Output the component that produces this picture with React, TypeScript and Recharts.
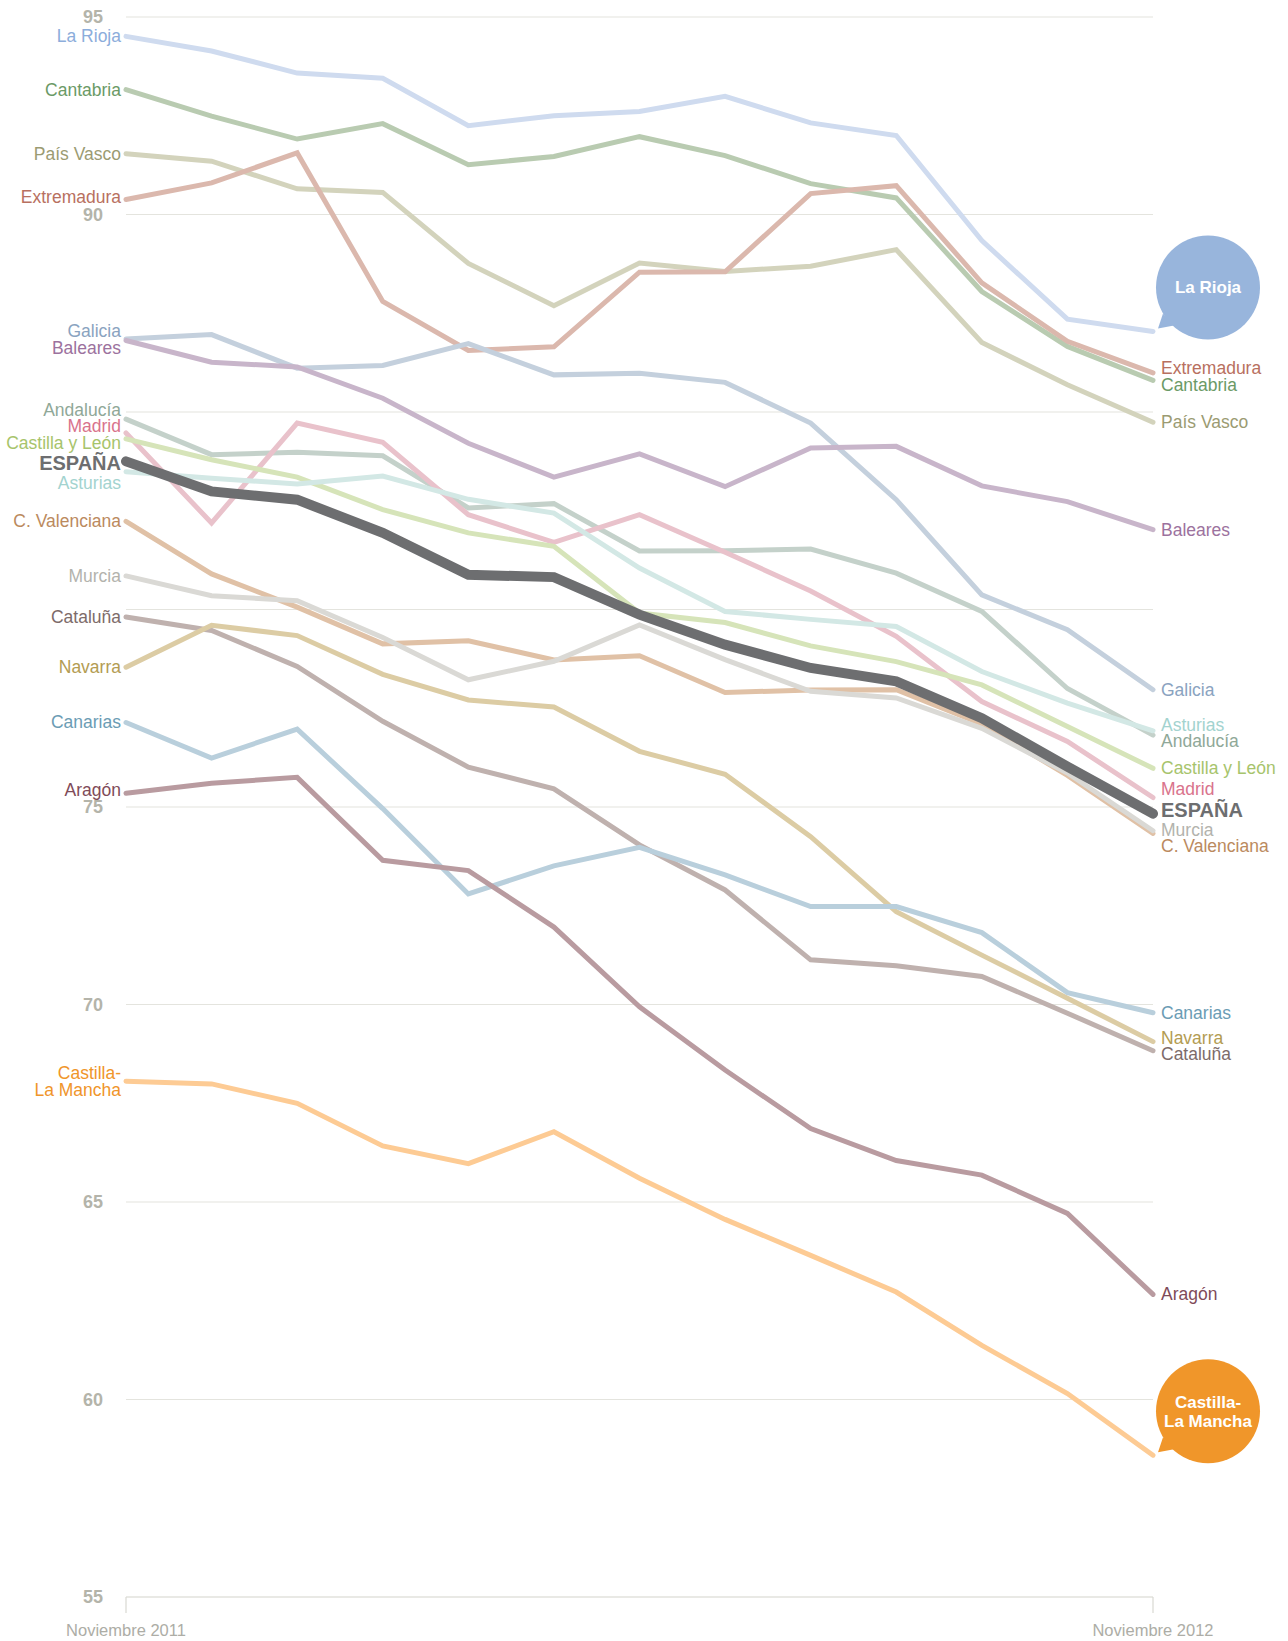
import { LineChart, Line, XAxis, YAxis, CartesianGrid } from 'recharts';

const MONTHS = [
  'Noviembre 2011', 'Diciembre 2011', 'Enero 2012', 'Febrero 2012', 'Marzo 2012', 'Abril 2012',
  'Mayo 2012', 'Junio 2012', 'Julio 2012', 'Agosto 2012', 'Septiembre 2012', 'Octubre 2012', 'Noviembre 2012',
];
const Y_TICKS = [55, 60, 65, 70, 75, 80, 85, 90, 95];
// these two tick labels sit under the region names in the original
const HIDDEN_TICK_LABELS = [80, 85];

const laRioja = [94.51, 94.14, 93.58, 93.45, 92.25, 92.5, 92.61, 92.99, 92.32, 92.0, 89.34, 87.35, 87.04];
const cantabria = [93.16, 92.49, 91.91, 92.3, 91.26, 91.47, 91.97, 91.49, 90.78, 90.42, 88.05, 86.66, 85.8];
const paisVasco = [91.54, 91.35, 90.65, 90.56, 88.76, 87.69, 88.77, 88.56, 88.69, 89.11, 86.76, 85.69, 84.74];
const extremadura = [90.38, 90.8, 91.56, 87.8, 86.56, 86.65, 88.54, 88.55, 90.53, 90.73, 88.27, 86.79, 85.99];
const galicia = [86.85, 86.96, 86.11, 86.18, 86.73, 85.94, 85.98, 85.75, 84.72, 82.78, 80.37, 79.49, 77.97];
const baleares = [86.81, 86.26, 86.14, 85.35, 84.21, 83.35, 83.94, 83.11, 84.09, 84.13, 83.13, 82.73, 82.02];
const andalucia = [84.82, 83.92, 83.98, 83.89, 82.57, 82.68, 81.48, 81.49, 81.53, 80.92, 79.95, 78.0, 76.82];
const madrid = [84.47, 82.19, 84.72, 84.23, 82.4, 81.7, 82.4, 81.45, 80.47, 79.32, 77.67, 76.66, 75.24];
const castillaLeon = [84.32, 83.79, 83.35, 82.53, 81.94, 81.6, 79.91, 79.67, 79.08, 78.68, 78.09, 77.04, 75.98];
const espana = [83.75, 82.99, 82.78, 81.94, 80.88, 80.82, 79.87, 79.11, 78.52, 78.18, 77.25, 76.02, 74.83];
const asturias = [83.49, 83.32, 83.18, 83.38, 82.79, 82.44, 81.05, 79.95, 79.75, 79.57, 78.43, 77.63, 76.93];
const cValenciana = [82.23, 80.9, 80.06, 79.13, 79.21, 78.72, 78.83, 77.9, 77.96, 77.97, 77.1, 75.8, 74.33];
const murcia = [80.85, 80.35, 80.22, 79.29, 78.22, 78.69, 79.61, 78.73, 77.93, 77.76, 76.99, 75.86, 74.4];
const cataluna = [79.81, 79.47, 78.56, 77.17, 76.01, 75.46, 74.04, 72.9, 71.13, 70.98, 70.71, 69.78, 68.83];
const navarra = [78.54, 79.6, 79.34, 78.36, 77.71, 77.53, 76.41, 75.83, 74.25, 72.35, 71.25, 70.16, 69.06];
const canarias = [77.14, 76.24, 76.97, 74.96, 72.8, 73.51, 73.98, 73.28, 72.48, 72.48, 71.82, 70.3, 69.79];
const aragon = [75.35, 75.6, 75.75, 73.65, 73.39, 71.96, 69.94, 68.34, 66.86, 66.05, 65.68, 64.71, 62.66];
const castillaLaMancha = [68.06, 67.99, 67.5, 66.42, 65.97, 66.78, 65.6, 64.56, 63.65, 62.72, 61.37, 60.15, 58.59];

type Series = {
  key: string;
  name: string;
  values: number[];
  line: string;
  text: string;
  bubble?: string;
  main?: boolean;
};

const SERIES: Series[] = [
  { key: 'laRioja', name: 'La Rioja', values: laRioja, line: '#cfdbef', text: '#8caddb', bubble: '#98b5dc' },
  { key: 'cantabria', name: 'Cantabria', values: cantabria, line: '#b9cbb1', text: '#6b9a66' },
  { key: 'paisVasco', name: 'País Vasco', values: paisVasco, line: '#d3d3bc', text: '#9b9b72' },
  { key: 'extremadura', name: 'Extremadura', values: extremadura, line: '#dbb8ad', text: '#b87060' },
  { key: 'galicia', name: 'Galicia', values: galicia, line: '#c4d0dd', text: '#8aa3c0' },
  { key: 'baleares', name: 'Baleares', values: baleares, line: '#c8b5ca', text: '#9c729e' },
  { key: 'andalucia', name: 'Andalucía', values: andalucia, line: '#c4d1ca', text: '#8fa898' },
  { key: 'madrid', name: 'Madrid', values: madrid, line: '#e9c2cb', text: '#d9738c' },
  { key: 'castillaLeon', name: 'Castilla y León', values: castillaLeon, line: '#d6e4b9', text: '#a7c46c' },
  { key: 'asturias', name: 'Asturias', values: asturias, line: '#d3e8e5', text: '#a3d3cf' },
  { key: 'cValenciana', name: 'C. Valenciana', values: cValenciana, line: '#e0c1a6', text: '#bb8a5e' },
  { key: 'murcia', name: 'Murcia', values: murcia, line: '#dad9d5', text: '#b3b3ad' },
  { key: 'cataluna', name: 'Cataluña', values: cataluna, line: '#bfb1ae', text: '#7d6b69' },
  { key: 'navarra', name: 'Navarra', values: navarra, line: '#dccca4', text: '#b39c52' },
  { key: 'canarias', name: 'Canarias', values: canarias, line: '#b9cfdc', text: '#6b9cb4' },
  { key: 'aragon', name: 'Aragón', values: aragon, line: '#b99ba0', text: '#7f4b59' },
  { key: 'castillaLaMancha', name: 'Castilla-\nLa Mancha', values: castillaLaMancha, line: '#fdcb94', text: '#f0952a', bubble: '#f0962a' },
  { key: 'espana', name: 'ESPAÑA', values: espana, line: '#6d6e70', text: '#6d6e70', main: true },
];

const W = 1288;
const H = 1641;
const MARGIN = { top: 17, right: 135, bottom: 0, left: 0 };
const X_AXIS_H = 44;
const Y_MIN = 55;
const Y_MAX = 95;
const PX_PER_UNIT = (H - MARGIN.top - MARGIN.bottom - X_AXIS_H) / (Y_MAX - Y_MIN);
const FONT = "'Liberation Sans', Arial, sans-serif";
const LAST = MONTHS.length - 1;

const data = MONTHS.map((month, i) => {
  const row: Record<string, string | number> = { month };
  SERIES.forEach((s) => {
    row[s.key] = s.values[i];
  });
  return row;
});

type LabelItem = { key: string; value: number; size: number; fixed?: boolean };

// push overlapping end labels apart, returns pixel shift per series
function spreadLabels(items: LabelItem[]) {
  const placed = items
    .map((it) => {
      const y = (Y_MAX - it.value) * PX_PER_UNIT;
      return { ...it, y, y0: y };
    })
    .sort((a, b) => a.y - b.y);
  for (let iter = 0; iter < 500; iter++) {
    let moved = false;
    for (let i = 1; i < placed.length; i++) {
      const a = placed[i - 1];
      const b = placed[i];
      const need = (a.size + b.size) / 2;
      const gap = b.y - a.y;
      if (gap < need - 0.01) {
        const d = need - gap;
        if (a.fixed && b.fixed) continue;
        if (a.fixed) b.y += d;
        else if (b.fixed) a.y -= d;
        else {
          a.y -= d / 2;
          b.y += d / 2;
        }
        moved = true;
      }
    }
    if (!moved) break;
  }
  const out: Record<string, number> = {};
  placed.forEach((p) => {
    out[p.key] = p.y - p.y0;
  });
  return out;
}

const labelSize = (s: Series) => (s.main ? 24 : 16.5 * s.name.split('\n').length);

const tickObstacles: LabelItem[] = Y_TICKS.filter((t) => !HIDDEN_TICK_LABELS.includes(t)).map((t) => ({
  key: `tick-${t}`,
  value: t,
  size: 18,
  fixed: true,
}));

const leftShift = spreadLabels([
  ...SERIES.map((s) => ({ key: s.key, value: s.values[0], size: labelSize(s) })),
  ...tickObstacles,
]);
const rightShift = spreadLabels(
  SERIES.filter((s) => !s.bubble).map((s) => ({ key: s.key, value: s.values[LAST], size: labelSize(s) })),
);

function LabelText({ s, x, y, anchor }: { s: Series; x: number; y: number; anchor: 'start' | 'end' }) {
  const lines = s.name.split('\n');
  const lh = 17;
  const startDy = -((lines.length - 1) * lh) / 2;
  return (
    <text
      x={x}
      y={y}
      textAnchor={anchor}
      fill={s.text}
      fontFamily={FONT}
      fontSize={s.main ? 20 : 17.5}
      fontWeight={s.main ? 700 : 400}
    >
      {lines.map((ln, i) => (
        <tspan key={i} x={x} dy={i === 0 ? startDy + (s.main ? 7 : 6) : lh}>
          {ln}
        </tspan>
      ))}
    </text>
  );
}

function Bubble({ s, cx, cy }: { s: Series; cx: number; cy: number }) {
  const bx = cx + 55;
  const by = cy - 44;
  const lines = s.name.split('\n');
  const lh = 19;
  return (
    <g>
      <polygon points={`${cx + 5},${cy - 3} ${cx + 10},${cy - 18} ${cx + 21},${cy - 6}`} fill={s.bubble} />
      <circle cx={bx} cy={by} r={52} fill={s.bubble} />
      <text x={bx} y={by} textAnchor="middle" fill="#fff" fontFamily={FONT} fontSize={17} fontWeight={700}>
        {lines.map((ln, i) => (
          <tspan key={i} x={bx} dy={i === 0 ? -((lines.length - 1) * lh) / 2 + 6 : lh}>
            {ln}
          </tspan>
        ))}
      </text>
    </g>
  );
}

const endLabels = (s: Series) => (props: any) => {
  const { cx, cy, index } = props;
  const k = `${s.key}-${index}`;
  if (index === 0) {
    return (
      <g key={k}>
        <LabelText s={s} x={cx - 5} y={cy + leftShift[s.key]} anchor="end" />
      </g>
    );
  }
  if (index === LAST) {
    if (s.bubble) {
      return (
        <g key={k}>
          <Bubble s={s} cx={cx} cy={cy} />
        </g>
      );
    }
    return (
      <g key={k}>
        <LabelText s={s} x={cx + 8} y={cy + rightShift[s.key]} anchor="start" />
      </g>
    );
  }
  return <g key={k} />;
};

const YTick = (props: any) => {
  const { x, y, payload } = props;
  if (HIDDEN_TICK_LABELS.includes(payload.value)) return <g />;
  return (
    <text x={x} y={y} dy={6} textAnchor="end" fill="#b4b4aa" fontSize={18} fontWeight={700} fontFamily={FONT}>
      {payload.value}
    </text>
  );
};

export default function App() {
  return (
    <div style={{ position: 'absolute', left: 0, top: 0, width: W, height: H, background: '#fff' }}>
      <LineChart width={W} height={H} data={data} margin={MARGIN}>
        <CartesianGrid vertical={false} stroke="#e4e4de" strokeWidth={1.2} />
        <XAxis
          dataKey="month"
          scale="point"
          ticks={[MONTHS[0], MONTHS[LAST]]}
          interval={0}
          height={X_AXIS_H}
          tickSize={16}
          tickMargin={11}
          axisLine={{ stroke: '#e2e2dc', strokeWidth: 1.2 }}
          tickLine={{ stroke: '#d9d9d2', strokeWidth: 1.2 }}
          tick={{ fill: '#adada6', fontSize: 16.5, fontFamily: FONT }}
        />
        <YAxis
          domain={[Y_MIN, Y_MAX]}
          ticks={Y_TICKS}
          width={126}
          axisLine={false}
          tickLine={false}
          tickSize={0}
          tickMargin={23}
          tick={<YTick />}
        />
        {SERIES.map((s) => (
          <Line
            key={s.key}
            dataKey={s.key}
            type="linear"
            stroke={s.line}
            strokeWidth={s.main ? 10 : 5}
            strokeLinecap="round"
            dot={endLabels(s)}
            activeDot={false}
            isAnimationActive={false}
          />
        ))}
      </LineChart>
    </div>
  );
}
